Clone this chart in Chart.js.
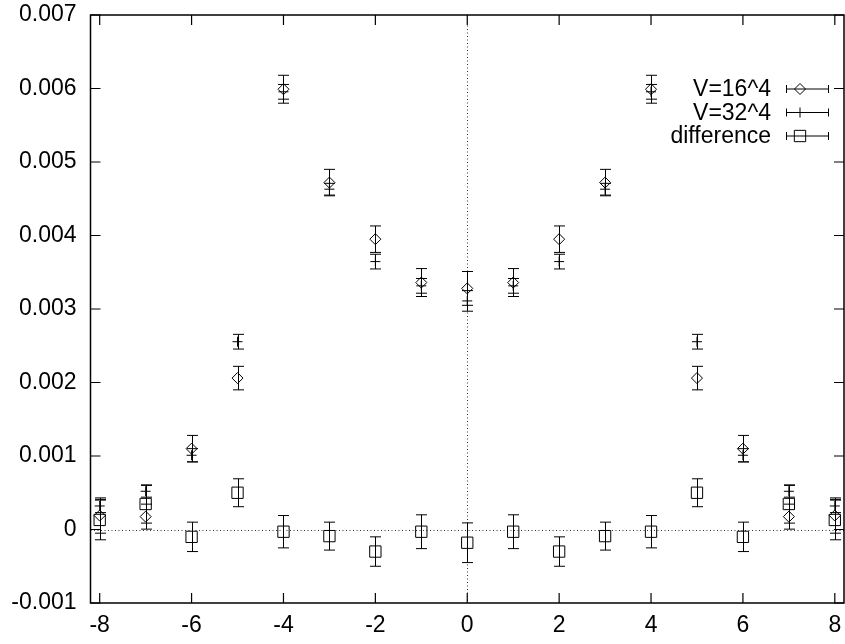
<!DOCTYPE html>
<html lang="en">
<head>
<meta charset="UTF-8">
<title>V=16^4 vs V=32^4</title>
<script src="https://cdn.jsdelivr.net/npm/chart.js"></script>
<style>
  body { margin: 0; background: #fff; }
  canvas { display: block; }
</style>
</head>
<body>
<canvas id="chart" width="845" height="644"></canvas>
<script>
// momentum component on the x axis
const momenta = [-8, -7, -6, -5, -4, -3, -2, -1, 0, 1, 2, 3, 4, 5, 6, 7, 8];

// V=16^4 (diamonds)
const v16 = [0.00019, 0.000175, 0.0011, 0.00206, 0.00599, 0.00472, 0.00395, 0.00336, 0.00328,
             0.00336, 0.00395, 0.00472, 0.00599, 0.00206, 0.0011, 0.000175, 0.00019];
const err16 = [0.00024, 0.00017, 0.00018, 0.00016, 0.00019, 0.00018, 0.00018, 0.00019, 0.00023,
               0.00019, 0.00018, 0.00018, 0.00019, 0.00016, 0.00018, 0.00017, 0.00024];

// V=32^4 (plus)
const v32 = [0.00032, 0.00052, 0.00101, 0.002555, 0.005955, 0.00463, 0.003645, 0.003315, 0.00311,
             0.003315, 0.003645, 0.00463, 0.005955, 0.002555, 0.00101, 0.00052, 0.00032];
const err32 = [0.00009, 0.00008, 0.00009, 0.0001, 0.0001, 0.00008, 0.0001, 0.0001, 0.00014,
               0.0001, 0.0001, 0.00008, 0.0001, 0.0001, 0.00009, 0.00008, 0.00009];

// difference (squares)
const vDiff = [0.00013, 0.000347, -0.0001, 0.0005, -0.00003, -0.00009, -0.0003, -0.00003, -0.00018,
               -0.00003, -0.0003, -0.00009, -0.00003, 0.0005, -0.0001, 0.000347, 0.00013];
const errDiff = [0.00027, 0.00026, 0.0002, 0.00019, 0.00022, 0.00019, 0.0002, 0.00023, 0.00027,
                 0.00023, 0.0002, 0.00019, 0.00022, 0.00019, 0.0002, 0.00026, 0.00027];

const seriesLabels = ['V=16^4', 'V=32^4', 'difference'];

const xTickValues = [-8, -6, -4, -2, 0, 2, 4, 6, 8];
const xTickLabels = ['-8', '-6', '-4', '-2', '0', '2', '4', '6', '8'];
const yTickValues = [-0.001, 0, 0.001, 0.002, 0.003, 0.004, 0.005, 0.006, 0.007];
const yTickLabels = ['-0.001', '0', '0.001', '0.002', '0.003', '0.004', '0.005', '0.006', '0.007'];

const FONT = '"Liberation Sans", Arial, sans-serif';
const FONT_SIZE = 23;

function points(values) {
    return momenta.map((m, i) => ({ x: m, y: values[i] }));
}

// keep the plot box where gnuplot put it, ignore label overhang
function noPadding(scale) {
    scale.paddingTop = 0;
    scale.paddingBottom = 0;
    scale.paddingLeft = 0;
    scale.paddingRight = 0;
}

// gnuplot look: dotted zero axes, error bars, framed box with inward ticks, key on the right
const gnuplotStyle = {
    id: 'gnuplotStyle',
    beforeDatasetsDraw(chart) {
        const { ctx, chartArea: a, scales: { x, y } } = chart;
        ctx.save();
        ctx.strokeStyle = '#333';
        ctx.lineWidth = 1;
        ctx.setLineDash([1, 2.5]);
        const y0 = Math.round(y.getPixelForValue(0)) + 0.5;
        const x0 = Math.round(x.getPixelForValue(0)) + 0.5;
        ctx.beginPath();
        ctx.moveTo(a.left, y0); ctx.lineTo(a.right, y0);
        ctx.moveTo(x0, a.top); ctx.lineTo(x0, a.bottom);
        ctx.stroke();
        ctx.restore();

        // error bars
        ctx.save();
        ctx.strokeStyle = '#000';
        ctx.lineWidth = 1;
        chart.data.datasets.forEach(ds => {
            ds.data.forEach((p, i) => {
                const px = Math.round(x.getPixelForValue(p.x)) + 0.5;
                const top = y.getPixelForValue(p.y + ds.errors[i]);
                const bot = y.getPixelForValue(p.y - ds.errors[i]);
                ctx.beginPath();
                ctx.moveTo(px, top); ctx.lineTo(px, bot);
                ctx.moveTo(px - 5.5, top); ctx.lineTo(px + 5.5, top);
                ctx.moveTo(px - 5.5, bot); ctx.lineTo(px + 5.5, bot);
                ctx.stroke();
            });
        });
        ctx.restore();
    },
    afterDraw(chart) {
        const { ctx, chartArea: a, scales: { x, y } } = chart;
        ctx.save();
        ctx.strokeStyle = '#000';
        ctx.lineWidth = 1.5;
        ctx.strokeRect(a.left, a.top, a.right - a.left, a.bottom - a.top);
        ctx.lineWidth = 1.2;
        ctx.beginPath();
        xTickValues.forEach(v => {
            const px = x.getPixelForValue(v);
            ctx.moveTo(px, a.bottom); ctx.lineTo(px, a.bottom - 10);
            ctx.moveTo(px, a.top); ctx.lineTo(px, a.top + 10);
        });
        yTickValues.forEach(v => {
            const py = y.getPixelForValue(v);
            ctx.moveTo(a.left, py); ctx.lineTo(a.left + 10, py);
            ctx.moveTo(a.right, py); ctx.lineTo(a.right - 10, py);
        });
        ctx.stroke();

        // key
        ctx.font = FONT_SIZE + 'px ' + FONT;
        ctx.fillStyle = '#000';
        ctx.textAlign = 'right';
        ctx.textBaseline = 'middle';
        chart.data.datasets.forEach((ds, i) => {
            const ry = 89 + i * 23.5;
            ctx.fillText(ds.label, 771, ry + 1);
            ctx.lineWidth = 1;
            ctx.beginPath();
            ctx.moveTo(786, ry); ctx.lineTo(829, ry);
            ctx.moveTo(786.5, ry - 4); ctx.lineTo(786.5, ry + 4);
            ctx.moveTo(828.5, ry - 4); ctx.lineTo(828.5, ry + 4);
            ctx.stroke();
            ctx.fillStyle = 'rgba(0,0,0,0)';
            Chart.helpers.drawPoint(ctx, {
                pointStyle: ds.pointStyle,
                radius: ds.pointRadius,
                borderWidth: 1,
                rotation: 0
            }, 800, ry);
            ctx.fillStyle = '#000';
        });
        ctx.restore();
    }
};

const ctx = document.getElementById('chart').getContext('2d');
new Chart(ctx, {
    type: 'scatter',
    data: {
        datasets: [
            {
                label: seriesLabels[0],
                data: points(v16),
                errors: err16,
                pointStyle: 'rectRot',
                pointRadius: 5.5,
                borderColor: '#000',
                backgroundColor: 'rgba(0,0,0,0)',
                borderWidth: 1
            },
            {
                label: seriesLabels[1],
                data: points(v32),
                errors: err32,
                pointStyle: 'cross',
                pointRadius: 5,
                borderColor: '#000',
                backgroundColor: 'rgba(0,0,0,0)',
                borderWidth: 1
            },
            {
                label: seriesLabels[2],
                data: points(vDiff),
                errors: errDiff,
                pointStyle: 'rect',
                pointRadius: 8,
                borderColor: '#000',
                backgroundColor: 'rgba(0,0,0,0)',
                borderWidth: 1
            }
        ]
    },
    options: {
        responsive: false,
        animation: false,
        layout: { autoPadding: false, padding: { left: 0, right: 1, top: 15, bottom: 0 } },
        plugins: {
            legend: { display: false },
            tooltip: { enabled: false }
        },
        scales: {
            x: {
                type: 'linear',
                min: -8.2,
                max: 8.2,
                grid: { display: false, drawTicks: false },
                border: { display: false },
                afterBuildTicks: scale => { scale.ticks = xTickValues.map(v => ({ value: v })); },
                afterFit: scale => { scale.height = 41; noPadding(scale); },
                ticks: {
                    padding: 9,
                    color: '#000',
                    font: { family: FONT, size: FONT_SIZE },
                    maxRotation: 0,
                    callback: (value, index) => xTickLabels[index]
                }
            },
            y: {
                type: 'linear',
                min: -0.001,
                max: 0.007,
                grid: { display: false, drawTicks: false },
                border: { display: false },
                afterBuildTicks: scale => { scale.ticks = yTickValues.map(v => ({ value: v })); },
                afterFit: scale => { scale.width = 90.5; noPadding(scale); },
                ticks: {
                    padding: 14,
                    color: '#000',
                    font: { family: FONT, size: FONT_SIZE },
                    callback: (value, index) => yTickLabels[index]
                }
            }
        }
    },
    plugins: [gnuplotStyle]
});
</script>
</body>
</html>
